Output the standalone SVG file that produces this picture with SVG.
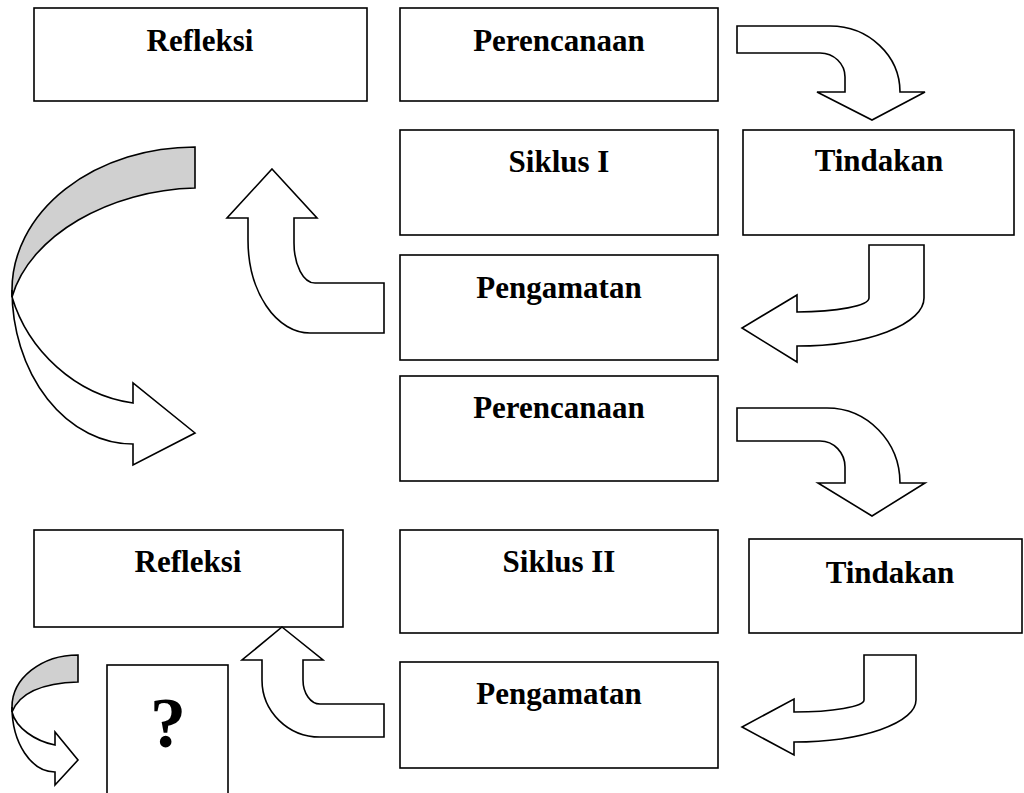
<svg xmlns="http://www.w3.org/2000/svg" width="1024" height="793" viewBox="0 0 1024 793">
<style>
.box{fill:#fff;stroke:#000;stroke-width:1.6}
.lbl{font-family:"Liberation Serif","Times New Roman",serif;font-weight:bold;font-size:31px;text-anchor:middle;fill:#000}
.arr{fill:#fff;stroke:#000;stroke-width:1.6;stroke-linejoin:miter}
.back{fill:#d0d0d0;stroke:#000;stroke-width:1.6}
</style>
<rect width="1024" height="793" fill="#fff"/>
<g id="refleksi1"><rect class="box" x="34" y="8" width="333" height="93"/><text class="lbl" x="200" y="51">Refleksi</text></g>
<g id="perencanaan1"><rect class="box" x="400" y="8" width="318" height="93"/><text class="lbl" x="559" y="51">Perencanaan</text></g>
<g id="siklus1"><rect class="box" x="400" y="130" width="318" height="105"/><text class="lbl" x="559" y="172">Siklus I</text></g>
<g id="tindakan1"><rect class="box" x="743" y="130" width="271" height="105"/><text class="lbl" x="879" y="171">Tindakan</text></g>
<g id="pengamatan1"><rect class="box" x="400" y="255" width="318" height="105"/><text class="lbl" x="559" y="298">Pengamatan</text></g>
<g id="perencanaan2"><rect class="box" x="400" y="376" width="318" height="105"/><text class="lbl" x="559" y="418">Perencanaan</text></g>
<g id="refleksi2"><rect class="box" x="34" y="530" width="309" height="97"/><text class="lbl" x="188" y="572">Refleksi</text></g>
<g id="siklus2"><rect class="box" x="400" y="530" width="318" height="103"/><text class="lbl" x="559" y="572">Siklus II</text></g>
<g id="tindakan2"><rect class="box" x="749" y="539" width="273" height="94"/><text class="lbl" x="890" y="583">Tindakan</text></g>
<g id="pengamatan2"><rect class="box" x="400" y="662" width="318" height="106"/><text class="lbl" x="559" y="704">Pengamatan</text></g>
<g id="tanya"><rect class="box" x="107" y="665" width="121" height="140"/><text class="lbl" x="168" y="747" style="font-size:72px">?</text></g>
<g id="connectors">
<path class="arr" d="M737,26 H830 A70,66 0 0 1 900,92 H925 L872,120 L817,92 H845 V77 A25,24 0 0 0 820,53 H737 Z"/>
<path class="arr" d="M737,408 H827 A73,75 0 0 1 900,483 H925 L872,516 L818,483 H845 V467 A25,26 0 0 0 820,441 H737 Z"/>
<path class="arr" d="M869,245 H924 V298 A127,48 0 0 1 797,346 V362 L742,328 L797,295 V312 A72,14 0 0 0 869,298 Z"/>
<path class="arr" d="M864,655 H916 V700 A122,42 0 0 1 794,742 V755 L742,727 L794,699 V712 A70,12 0 0 0 864,700 Z"/>
<path class="arr" d="M272,169 L317,218 H294 V243 A21,40 0 0 0 315,283 H384 V333 H310 A62,93 0 0 1 248,240 V218 H227 Z"/>
<path class="arr" d="M282,627 L323,660 H303 V680 A17,24 0 0 0 320,704 H384 V737 H320 A58,57 0 0 1 262,680 V660 H242 Z"/>
<path class="back" d="M195,147 A183,143 0 0 0 12,290 L12,297 C30,235 110,190 195,188 Z"/>
<path class="arr" d="M12,290 A121,154 0 0 0 133,444 V465 L195,433 L133,383 V403 C75,395 28,350 12,297 Z"/>
<path class="back" d="M78,655 A66,52 0 0 0 12,707 L12,712 C20,692 45,683 78,682 Z"/>
<path class="arr" d="M12,707 A43,65 0 0 0 55,772 V785 L78,760 L55,732 V745 C35,741 16,728 12,712 Z"/>
</g>
</svg>
